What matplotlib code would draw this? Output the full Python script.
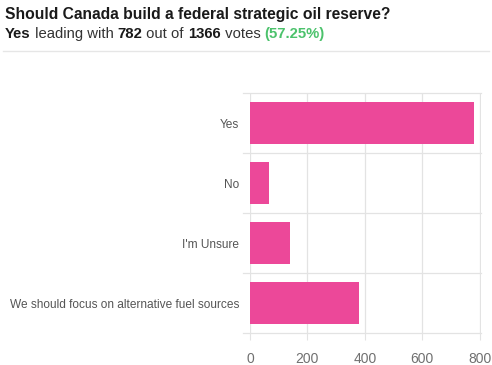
import matplotlib
matplotlib.use("Agg")
import matplotlib.pyplot as plt
from matplotlib.lines import Line2D

plt.rcParams['font.family'] = ['Liberation Sans', 'DejaVu Sans']

categories = ['Yes', 'No', "I'm Unsure", 'We should focus on alternative fuel sources']
votes = [782, 65, 139, 380]
x_ticks = [0, 200, 400, 600, 800]

title = 'Should Canada build a federal strategic oil reserve?'
total = sum(votes)
lead = max(votes)
lead_name = categories[votes.index(lead)]
pct = '(%.2f%%)' % (100.0 * lead / total)

bar_color = '#EC4899'
grid_color = '#E3E3E3'

fig = plt.figure(figsize=(4.92, 3.65), dpi=100)
ax = fig.add_axes([250 / 492, 1 - 333 / 365, 231 / 492, 240 / 365])

ypos = list(range(len(categories)))
ax.barh(ypos, votes, height=0.7, color=bar_color, zorder=2)
ax.set_ylim(len(categories) - 0.5, -0.5)
ax.set_xlim(0, 805)

ax.set_xticks(x_ticks)
ax.set_xticklabels([str(t) for t in x_ticks], color='#707070', fontsize=10)
ax.set_yticks(ypos)
ax.set_yticklabels(categories, color='#555555', fontsize=8.55)
ax.tick_params(axis='y', length=0, pad=8)
ax.tick_params(axis='x', length=5, color=grid_color, pad=9)

# grid: vertical at x ticks, horizontal at category boundaries
for t in x_ticks:
    ax.axvline(t, color=grid_color, lw=0.9, zorder=1)
ax.axvline(805, color=grid_color, lw=0.9, zorder=1)
for b in [i - 0.5 for i in range(len(categories) + 1)]:
    ax.plot([-25, 805], [b, b], color=grid_color, lw=0.9, zorder=1, clip_on=False)

for s in ax.spines.values():
    s.set_visible(False)

# header
fig.text(5 / 492, 1 - 14 / 365, title, fontsize=11.25, fontweight='bold',
         color='#1a1a1a', va='center', ha='left')

pieces = [(lead_name, 'bold', '#1a1a1a'),
          (' leading with ', 'normal', '#333333'),
          (str(lead), 'bold', '#1a1a1a'),
          (' out of ', 'normal', '#333333'),
          (str(total), 'bold', '#1a1a1a'),
          (' votes ', 'normal', '#333333'),
          (pct, 'bold', '#4CC26C')]
fig.canvas.draw()
renderer = fig.canvas.get_renderer()
x = 5
for txt, weight, col in pieces:
    t = fig.text(x / 492, 1 - 34 / 365, txt, fontsize=10.7, fontweight=weight,
                 color=col, va='center', ha='left')
    bb = t.get_window_extent(renderer=renderer)
    x = bb.x1

fig.add_artist(Line2D([3 / 492, 489 / 492], [1 - 51 / 365, 1 - 51 / 365],
                      color='#E6E6E6', lw=1))

fig.savefig('out.png', dpi=100)
